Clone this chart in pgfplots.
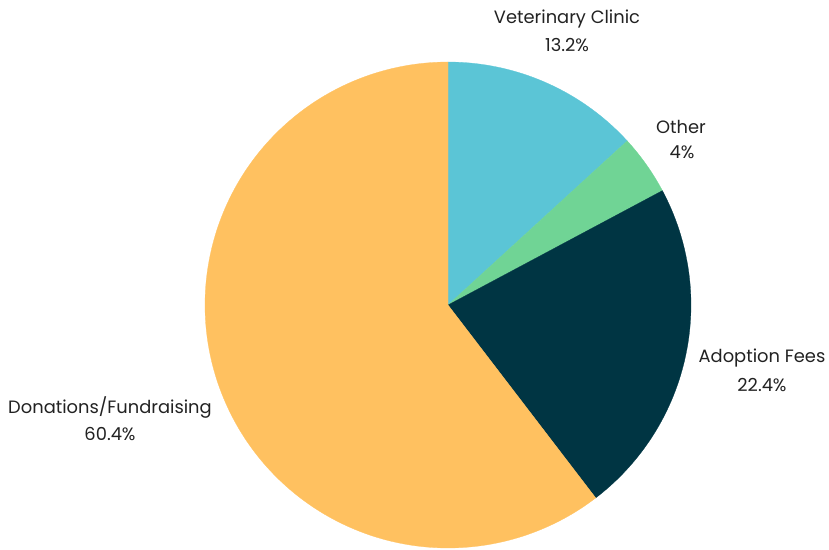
\documentclass[border=0pt]{standalone}
\usepackage{pgfplots}
\pgfplotsset{compat=1.18}
\usepackage{fontspec}
\setmainfont{Poppins}
\definecolor{vet}{HTML}{5BC5D6}
\definecolor{oth}{HTML}{70D495}
\definecolor{adopt}{HTML}{003543}
\definecolor{don}{HTML}{FFC160}
\definecolor{txt}{HTML}{222222}
\begin{document}
\begin{tikzpicture}
\begin{axis}[
  width=621.75pt, height=412.5pt, scale only axis,
  xmin=0, xmax=829, ymin=0, ymax=550,
  hide axis, clip=false,
]
\addplot[draw=none, forget plot] coordinates {(0,0) (829,550)};
% slices: angles (deg) from shares 13.2, 4, 22.4, 60.4 % clockwise from top
\addplot[fill=vet, draw=vet, line width=0.2pt, domain=42.48:90, samples=60]
  ({448+243*cos(x)},{245+243*sin(x)}) -- (axis cs:448,245) -- cycle;
\addplot[fill=oth, draw=oth, line width=0.2pt, domain=28.08:42.48, samples=20]
  ({448+243*cos(x)},{245+243*sin(x)}) -- (axis cs:448,245) -- cycle;
\addplot[fill=adopt, draw=adopt, line width=0.2pt, domain=-52.56:28.08, samples=80]
  ({448+243*cos(x)},{245+243*sin(x)}) -- (axis cs:448,245) -- cycle;
\addplot[fill=don, draw=don, line width=0.2pt, domain=-270:-52.56, samples=200]
  ({448+243*cos(x)},{245+243*sin(x)}) -- (axis cs:448,245) -- cycle;
\begin{scope}[every node/.style={font=\fontsize{13.4pt}{15pt}\selectfont, text=txt, inner sep=0pt}]
\node at (axis cs:567,531) {Veterinary Clinic};
\node at (axis cs:567,505) {13.2\%};
\node at (axis cs:681,423) {Other};
\node at (axis cs:682,398) {4\%};
\node at (axis cs:762,192) {Adoption Fees};
\node at (axis cs:762,165) {22.4\%};
\node at (axis cs:110,143) {Donations/Fundraising};
\node at (axis cs:110,116) {60.4\%};
\end{scope}
\end{axis}
\end{tikzpicture}
\end{document}
